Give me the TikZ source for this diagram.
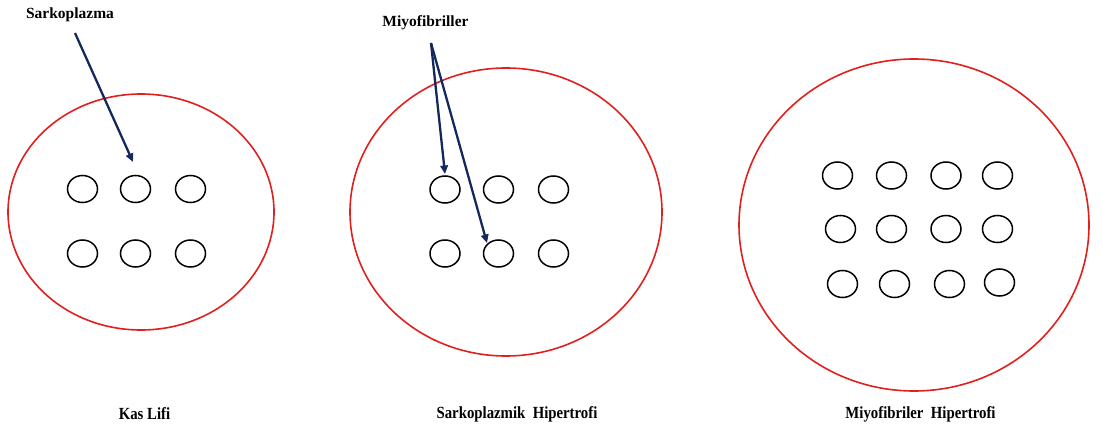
\documentclass[tikz,border=0pt]{standalone}
\usepackage{fontspec}
\setmainfont{Liberation Serif}
\usetikzlibrary{shapes.geometric,arrows.meta}
\definecolor{fiberred}{HTML}{E0201E}
\definecolor{navy}{HTML}{13295B}
\begin{document}
\begin{tikzpicture}[x=1pt,y=-1pt,
  fiber/.style={draw=fiberred,line width=1.6pt,ellipse,inner sep=0pt},
  fibril/.style={draw=black,line width=1.5pt,ellipse,inner sep=0pt,
                 minimum width=30pt,minimum height=27pt},
  ptr/.style={draw=navy,line width=2.3pt,
              -{Triangle[width=7.5pt,length=8.5pt]}},
  toplabel/.style={font=\fontsize{15.5}{18}\selectfont\bfseries,inner sep=0pt},
  caption/.style={font=\fontsize{17}{20}\selectfont\bfseries,inner sep=0pt,xscale=0.87}]
\useasboundingbox (0,0) rectangle (1103,425);

% muscle fibres (outer membranes)
\node[fiber,minimum width=266pt,minimum height=236pt] (f1) at (141,212) {};
\node[fiber,minimum width=312pt,minimum height=288pt] (f2) at (506,212) {};
\node[fiber,minimum width=350pt,minimum height=332pt] (f3) at (914,225) {};

% myofibrils, fibre 1
\node[fibril] (a1) at (82.5,189) {};
\node[fibril] (a2) at (135.5,189) {};
\node[fibril] (a3) at (190.5,189) {};
\node[fibril] (a4) at (82.5,253.5) {};
\node[fibril] (a5) at (135.5,253.5) {};
\node[fibril] (a6) at (190.5,253.5) {};

% myofibrils, fibre 2
\node[fibril] (b1) at (445,189.5) {};
\node[fibril] (b2) at (498.5,189.5) {};
\node[fibril] (b3) at (553.5,189.5) {};
\node[fibril] (b4) at (445,253.5) {};
\node[fibril] (b5) at (498.5,253.5) {};
\node[fibril] (b6) at (553.5,253.5) {};

% myofibrils, fibre 3
\node[fibril] (c1) at (837.5,175.5) {};
\node[fibril] (c2) at (891.5,175.5) {};
\node[fibril] (c3) at (946,175.5) {};
\node[fibril] (c4) at (997.5,175.5) {};
\node[fibril] (c5) at (840.5,229) {};
\node[fibril] (c6) at (891.5,229) {};
\node[fibril] (c7) at (946,229) {};
\node[fibril] (c8) at (997.5,229) {};
\node[fibril] (c9) at (842.5,284) {};
\node[fibril] (c10) at (894.5,284) {};
\node[fibril] (c11) at (949.5,284) {};
\node[fibril] (c12) at (999.5,282.5) {};

% pointer labels
\node[toplabel] (lsarko) at (70,15) {Sarkoplazma};
\node[toplabel] (lmyo) at (425.5,23) {Miyofibriller};

% pointer ends
\coordinate (s1) at (75,33);
\coordinate (t1) at (133,162);
\coordinate (s2) at (431,43);
\coordinate (t2) at (445,174);
\coordinate (t3) at (487,243);

\draw[ptr] (s1) -- (t1);
\draw[ptr] (s2) -- (t2);
\draw[ptr] (s2) -- (t3);

% captions
\node[caption] (cap1) at (144.5,414) {Kas Lifi};
\node[caption] (cap2) at (517,414) {Sarkoplazmik\ \ Hipertrofi};
\node[caption] (cap3) at (920.5,414) {Miyofibriler\ \ Hipertrofi};
\end{tikzpicture}
\end{document}
